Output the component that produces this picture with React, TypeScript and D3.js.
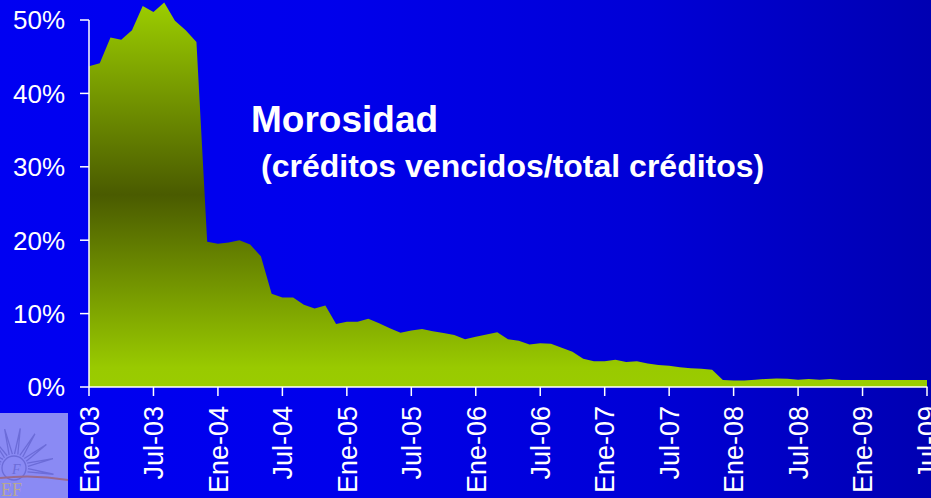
import React from "react";
import * as d3 from "d3";

// Monthly non-performing loan ratio (%), Jan-2003 .. Jul-2009
const morosidad: number[] = [
  43.7, 44.1, 47.6, 47.3, 48.6, 51.9, 51.1, 52.4, 49.9, 48.6, 47.0, 19.8,
  19.5, 19.7, 20.0, 19.4, 17.8, 12.7, 12.2, 12.2, 11.2, 10.7, 11.1, 8.6,
  8.9, 8.9, 9.3, 8.7, 8.0, 7.4, 7.7, 7.9, 7.6, 7.35, 7.1, 6.5,
  6.85, 7.15, 7.45, 6.5, 6.3, 5.8, 5.95, 5.9, 5.35, 4.8, 3.85, 3.5,
  3.5, 3.7, 3.4, 3.5, 3.2, 3.0, 2.9, 2.7, 2.55, 2.5, 2.35, 0.95,
  0.88, 0.9, 1.0, 1.1, 1.17, 1.13, 1.0, 1.09, 1.0, 1.09, 0.97, 0.95,
  0.95, 0.95, 0.95, 0.95, 0.95, 0.95, 0.95,
];
const xTickLabels: string[] = [
  "Ene-03", "Jul-03", "Ene-04", "Jul-04", "Ene-05", "Jul-05", "Ene-06",
  "Jul-06", "Ene-07", "Jul-07", "Ene-08", "Jul-08", "Ene-09", "Jul-09",
];
const yTicks: number[] = [0, 10, 20, 30, 40, 50];
const title = "Morosidad";
const subtitle = "(créditos vencidos/total créditos)";

const W = 931;
const H = 498;

export default function App() {
  const x = d3.scaleLinear().domain([0, morosidad.length - 1]).range([89, 927]);
  const y = d3.scaleLinear().domain([0, 50]).range([387, 20]);
  const area = d3
    .area<number>()
    .x((_, i) => x(i))
    .y0(y(0))
    .y1((d) => y(d));
  const font = "'Liberation Sans', Arial, Helvetica, sans-serif";

  return (
    <svg
      width={W}
      height={H}
      style={{ position: "absolute", left: 0, top: 0, display: "block" }}
    >
      <defs>
        <linearGradient id="bg" x1="0" y1="0" x2="1" y2="0">
          <stop offset="0" stopColor="#0000F2" />
          <stop offset="0.35" stopColor="#0000EC" />
          <stop offset="0.7" stopColor="#0000D6" />
          <stop offset="1" stopColor="#0000B2" />
        </linearGradient>
        <linearGradient id="fillG" x1="0" y1="0" x2="0" y2="1">
          <stop offset="0" stopColor="#9CCE00" />
          <stop offset="0.5" stopColor="#4A5B00" />
          <stop offset="0.95" stopColor="#99CA00" />
          <stop offset="1" stopColor="#9ACC00" />
        </linearGradient>
      </defs>
      <rect x={0} y={0} width={W} height={H} fill="url(#bg)" />

      {/* logo box */}
      <g>
        <rect x={0} y={413} width={68} height={85} fill="#8A8AF4" />
        {d3.range(9).map((k) => {
          const a = -Math.PI * 0.95 + (k * Math.PI * 1.0) / 8;
          const cx = 14, cy = 468;
          return (
            <path
              key={k}
              d={`M${cx + Math.cos(a - 0.12) * 14},${cy + Math.sin(a - 0.12) * 14} L${cx + Math.cos(a) * 40},${cy + Math.sin(a) * 40} L${cx + Math.cos(a + 0.12) * 14},${cy + Math.sin(a + 0.12) * 14}`}
              fill="none"
              stroke="#6C6CD8"
              strokeWidth={1.3}
            />
          );
        })}
        <circle cx={14} cy={468} r={12} fill="none" stroke="#6C6CD8" strokeWidth={1.3} />
        <text x={12} y={474} fontFamily="serif" fontSize={14} fill="#6C6CD8" fontStyle="italic">F</text>
        <path d="M0,478 Q34,474 68,480" fill="none" stroke="#9A6A90" strokeWidth={2} />
        <text x={1} y={496} fontFamily="serif" fontSize={18} fill="#B8A890">EF</text>
      </g>

      <path d={area(morosidad) ?? ""} fill="url(#fillG)" />

      {/* axes */}
      <line x1={89} x2={89} y1={20} y2={387} stroke="#fff" strokeWidth={1.5} />
      <line x1={89} x2={927.5} y1={387} y2={387} stroke="#fff" strokeWidth={1.5} />
      {yTicks.map((t) => (
        <g key={t}>
          <line x1={80} x2={89} y1={y(t)} y2={y(t)} stroke="#fff" strokeWidth={1.5} />
          <text
            x={65}
            y={y(t)}
            dy="0.36em"
            textAnchor="end"
            fontFamily={font}
            fontSize={26}
            fill="#fff"
          >
            {t}%
          </text>
        </g>
      ))}
      {xTickLabels.map((lab, i) => {
        const xi = x(i * 6);
        return (
          <g key={lab}>
            <line x1={xi} x2={xi} y1={387} y2={396} stroke="#fff" strokeWidth={1.5} />
            <text
              transform={`translate(${xi},406) rotate(-90)`}
              dy="0.36em"
              textAnchor="end"
              fontFamily={font}
              fontSize={27}
              fill="#fff"
            >
              {lab}
            </text>
          </g>
        );
      })}

      <text x={251} y={132} fontFamily={font} fontWeight="bold" fontSize={37} fill="#fff">
        {title}
      </text>
      <text x={261} y={177} fontFamily={font} fontWeight="bold" fontSize={32} fill="#fff">
        {subtitle}
      </text>
    </svg>
  );
}
